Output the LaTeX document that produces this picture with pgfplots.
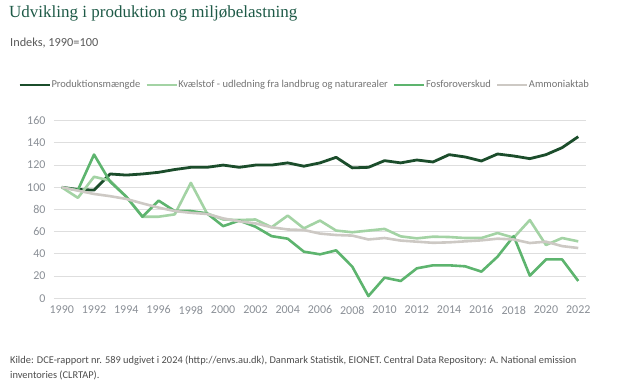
\documentclass[border=0pt]{standalone}
\usepackage{fontspec}
\setmainfont{Carlito}
\newfontfamily\titlefont{Liberation Serif}
\usepackage{pgfplots}
\usepackage{pgfplotstable}
\pgfplotsset{compat=1.18}
\definecolor{cprod}{HTML}{1B4D2B}
\definecolor{ckvael}{HTML}{A3D3A4}
\definecolor{cfos}{HTML}{5DB46E}
\definecolor{cammon}{HTML}{CDC9C4}
\definecolor{ctitle}{HTML}{1E5A47}
\definecolor{ctick}{HTML}{8A8F96}
\definecolor{cgrid}{HTML}{DEDEDE}
\pgfplotstableread{
year prod kvael fos ammon
1990 100 100 100 100
1991 98 90.5 97.5 97
1992 97.5 109.5 129.5 94
1993 112 106 105 92
1994 111 91.5 91.5 89.5
1995 112 73.5 73.5 85.5
1996 113.5 73.5 88 81.7
1997 116 75.6 78.6 78.6
1998 118 104 78.6 77
1999 118 76.5 76.5 76
2000 120 71 65 72
2001 118 70.5 70 69.3
2002 120 71 64.5 67.5
2003 120 64 56 64
2004 122 74.5 53.7 62
2005 119 63 42 61.5
2006 122 70 39.6 58.3
2007 127 61 43.2 57
2008 117.5 59.5 28.5 56.5
2009 118 61 2 53
2010 124 62.5 18.6 54.3
2011 122 55.8 15.6 52
2012 124.6 54 27 51
2013 122.8 55.5 29.7 50
2014 129.4 55.2 29.7 50.4
2015 127.3 54.3 28.8 51.3
2016 123.7 54.3 24 52.2
2017 130 58.8 37.5 53.7
2018 128.2 54.6 56 53
2019 125.8 70.5 20.4 49.8
2020 129.4 48 35 51
2021 135.7 54.3 35 47
2022 145.6 51.3 15.6 45.3
}\datatable
\begin{document}
\begin{tikzpicture}
\useasboundingbox (0,0) rectangle (619pt,382pt);
\node[anchor=north west, inner sep=0pt, font=\titlefont\fontsize{17}{20}\selectfont, text=ctitle] at (9pt,376pt) {Udvikling i produktion og miljøbelastning};
\node[anchor=west, inner sep=0pt, font=\fontsize{12.3}{14}\selectfont, text=black!65] at (10pt,339pt) {Indeks, 1990=100};
\node[anchor=north west, inner sep=0pt, align=left, font=\fontsize{10.4}{15}\selectfont, text=black!70] at (10pt,26pt) {Kilde: DCE-rapport nr. 589 udgivet i 2024 (http://envs.au.dk), Danmark Statistik, EIONET. Central Data Repository: A. National emission\\inventories (CLRTAP).};
\begin{axis}[
  at={(54pt,83.7pt)}, anchor=south west,
  scale only axis, width=532pt, height=177.6pt,
  xmin=1989.52, xmax=2022.48, ymin=0, ymax=160,
  axis line style={draw=none},
  major tick length=0pt,
  xtick={1990,1992,...,2022}, ytick={0,20,...,160},
  ymajorgrids, grid style={cgrid, line width=1pt},
  x tick label style={/pgf/number format/1000 sep=, font=\fontsize{12}{14}\selectfont, text=ctick, yshift=-4pt},
  y tick label style={font=\fontsize{12}{14}\selectfont, text=ctick, xshift=-5pt},
  /pgf/number format/assume math mode=true,
  legend columns=4,
  legend style={draw=none, fill=none, at={(axis description cs:-0.0733,1.201)}, anchor=west,
    font=\fontsize{10.5}{12}\selectfont, text=black!55,
    /tikz/every odd column/.append style={column sep=0pt},
    /tikz/every even column/.append style={column sep=4.5pt},
    nodes={inner xsep=0.5pt, inner ysep=1pt}},
  legend image code/.code={\draw[#1] (0pt,0pt) -- (30pt,0pt);},
  every axis plot/.append style={line width=2.6pt, line join=round, mark=none},
]
\addplot[cprod, line width=2.8pt] table[x=year,y=prod] {\datatable};
\addlegendentry{Produktionsmængde}
\addplot[ckvael] table[x=year,y=kvael] {\datatable};
\addlegendentry{Kvælstof - udledning fra landbrug og naturarealer}
\addplot[cfos] table[x=year,y=fos] {\datatable};
\addlegendentry{Fosforoverskud}
\addplot[cammon] table[x=year,y=ammon] {\datatable};
\addlegendentry{Ammoniaktab}
\end{axis}
\end{tikzpicture}
\end{document}
